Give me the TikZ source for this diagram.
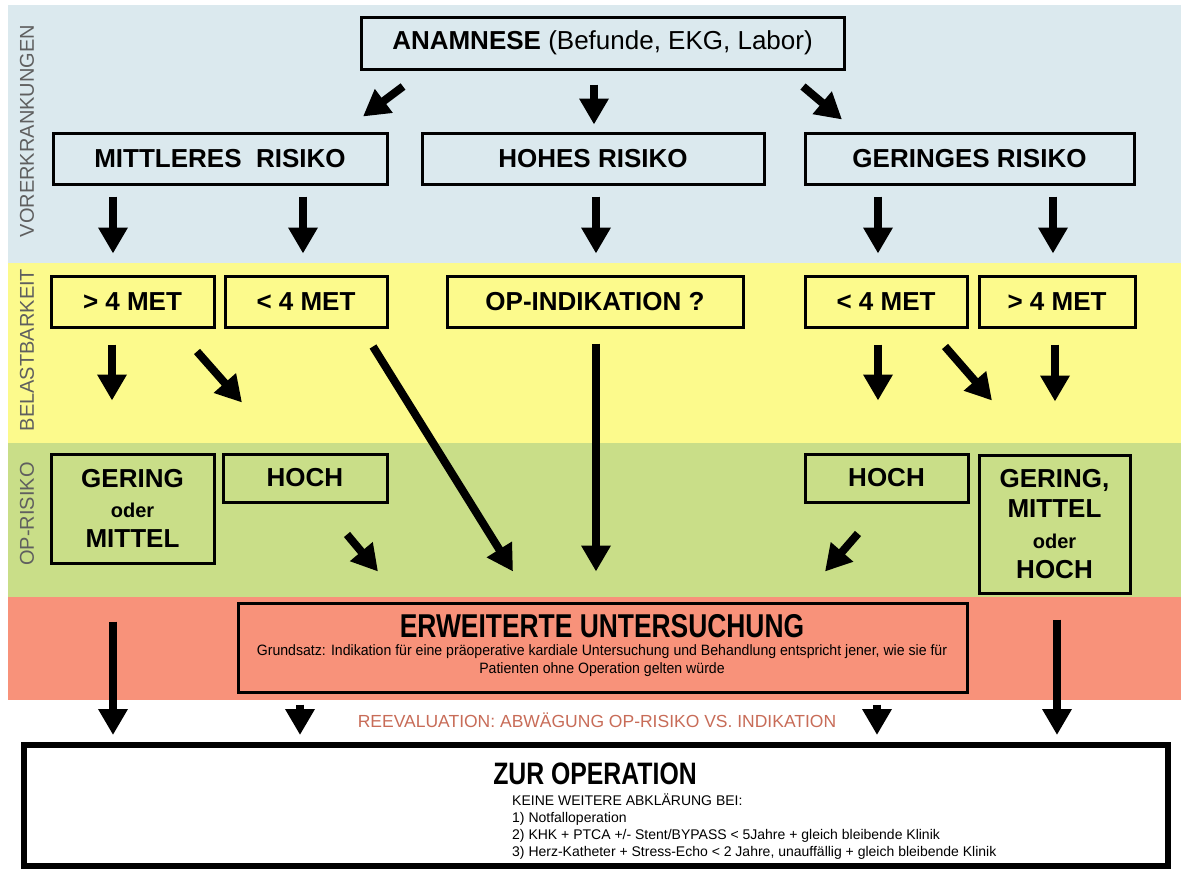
\documentclass[tikz,border=0pt]{standalone}
\usepackage{fontspec}
\setmainfont{Liberation Sans}
\newfontfamily\condfont[FakeStretch=0.80]{Liberation Sans}
\newfontfamily\smallcond[FakeStretch=0.94]{Liberation Sans}
\usetikzlibrary{arrows.meta}
\definecolor{bandblue}{RGB}{219,233,238}
\definecolor{bandyellow}{RGB}{252,250,140}
\definecolor{bandgreen}{RGB}{201,222,136}
\definecolor{bandred}{RGB}{248,146,122}
\definecolor{labelgray}{RGB}{95,95,95}
\definecolor{reeval}{RGB}{200,108,88}
\tikzset{
  box/.style={draw=black, line width=3pt, inner sep=0pt, align=center,
              font=\fontsize{26}{30}\selectfont\bfseries},
  barrow/.style={line width=8pt, -{Triangle[width=28pt,length=26pt]}},
  sidelabel/.style={rotate=90, text=labelgray, font=\fontsize{20}{20}\selectfont},
}
\begin{document}
\begin{tikzpicture}[x=1pt,y=-1pt]
\useasboundingbox (0,0) rectangle (1181,870);
\fill[white] (0,0) rectangle (1181,870);
% bands
\fill[bandblue]   (8,5)   rectangle (1181,263);
\fill[bandyellow] (8,263) rectangle (1181,443);
\fill[bandgreen]  (8,443) rectangle (1181,597);
\fill[bandred]    (8,597) rectangle (1181,700);
% side labels
\node[sidelabel] (lvor) at (27,131) {VORERKRANKUNGEN};
\node[sidelabel] (lbel) at (27,350) {BELASTBARKEIT};
\node[sidelabel] (lopr) at (27,514) {OP-RISIKO};
% boxes
\node[box, minimum width=483pt, minimum height=52pt] (anam) at (602.5,43)
  {ANAMNESE \mdseries(Befunde, EKG, Labor)};
\node[box, minimum width=334pt, minimum height=51pt] (mitt) at (220,158.5) {MITTLERES\ \ RISIKO};
\node[box, minimum width=342pt, minimum height=51pt] (hohes) at (593,158.5) {HOHES RISIKO};
\node[box, minimum width=329pt, minimum height=51pt] (ger) at (969.5,158.5) {GERINGES RISIKO};
\node[box, minimum width=163pt, minimum height=51pt] (gtL) at (132.5,301.5) {> 4 MET};
\node[box, minimum width=162pt, minimum height=51pt] (ltL) at (306,301.5) {< 4 MET};
\node[box, minimum width=296pt, minimum height=51pt] (opind) at (595,301.5) {OP-INDIKATION ?};
\node[box, minimum width=162pt, minimum height=51pt] (ltR) at (886,301.5) {< 4 MET};
\node[box, minimum width=156pt, minimum height=51pt] (gtR) at (1057,301.5) {> 4 MET};
\node[box, minimum width=163pt, minimum height=109pt] (gomL) at (132.5,508.5)
  {GERING\\{\fontsize{20}{29}\selectfont oder}\\MITTEL};
\node[box, minimum width=164pt, minimum height=48pt] (hochL) at (305,478) {HOCH};
\node[box, minimum width=163pt, minimum height=48pt] (hochR) at (886.5,478) {HOCH};
\node[box, minimum width=151pt, minimum height=138pt, font=\fontsize{26}{30.5}\selectfont\bfseries] (gmoh) at (1054.5,524)
  {GERING,\\MITTEL\\{\fontsize{20}{30.5}\selectfont oder}\\HOCH};
\node[box, fill=bandred, minimum width=729pt, minimum height=89pt] (erw) at (602.5,647.5) {};
\node[font=\condfont\fontsize{33}{33}\selectfont\bfseries, inner sep=0pt] (erwt) at (602,626) {ERWEITERTE UNTERSUCHUNG};
\node[font=\smallcond\fontsize{15}{18}\selectfont, align=center, inner sep=0pt] (erws) at (602,661)
  {Grundsatz: Indikation für eine präoperative kardiale Untersuchung und Behandlung entspricht jener, wie sie für\\Patienten ohne Operation gelten würde};
\node[draw=black, line width=6pt, minimum width=1144pt, minimum height=121pt, inner sep=0pt] (zur) at (596,805.5) {};
\node[font=\condfont\fontsize{31}{31}\selectfont\bfseries, inner sep=0pt] (zurt) at (595,774) {ZUR OPERATION};
\node[font=\fontsize{14}{17}\selectfont, align=left, anchor=north west, inner sep=0pt] (zurl) at (512,794)
  {KEINE WEITERE ABKLÄRUNG BEI:\\
   1) Notfalloperation\\
   2) KHK + PTCA +/- Stent/BYPASS < 5Jahre + gleich bleibende Klinik\\
   3) Herz-Katheter + Stress-Echo < 2 Jahre, unauffällig + gleich bleibende Klinik};
\node[font=\fontsize{17.5}{17.5}\selectfont, text=reeval, inner sep=0pt] (reev) at (597,720)
  {REEVALUATION: ABWÄGUNG OP-RISIKO VS. INDIKATION};
% arrows row 1
\draw[barrow] ([shift={(-199.5,16)}]anam.south) -- ([shift={(143,-15)}]mitt.north);
\draw[barrow] ([shift={(-8.5,14)}]anam.south) -- ([shift={(1,-7)}]hohes.north);
\draw[barrow] ([shift={(200.5,16)}]anam.south) -- ([shift={(-127.5,-12)}]ger.north);
% row 2
\draw[barrow] ([shift={(-107,11)}]mitt.south) -- ([shift={(-19.5,-21)}]gtL.north);
\draw[barrow] ([shift={(83,11)}]mitt.south) -- ([shift={(-3,-21)}]ltL.north);
\draw[barrow] ([shift={(3,11)}]hohes.south) -- ([shift={(1,-21)}]opind.north);
\draw[barrow] ([shift={(-91.5,11)}]ger.south) -- ([shift={(-8,-21)}]ltR.north);
\draw[barrow] ([shift={(83.5,11)}]ger.south) -- ([shift={(-4,-21)}]gtR.north);
% row 3
\draw[barrow] ([shift={(-20.5,16)}]gtL.south) -- ([shift={(-20.5,-52)}]gomL.north);
\draw[barrow] ([shift={(64.5,23)}]gtL.south) -- ([shift={(-63,-50)}]hochL.north);
\draw[barrow] ([shift={(67,18)}]ltL.south) -- ([shift={(-89.5,-30)}]erw.north);
\draw[barrow] ([shift={(1,15)}]opind.south) -- ([shift={(-6.5,-30)}]erw.north);
\draw[barrow] ([shift={(-8,16)}]ltR.south) -- ([shift={(-8.5,-52)}]hochR.north);
\draw[barrow] ([shift={(59,18)}]ltR.south) -- ([shift={(-62.5,-53)}]gmoh.north);
\draw[barrow] ([shift={(-2,16)}]gtR.south) -- ([shift={(0.5,-52)}]gmoh.north);
% green band
\draw[barrow] ([shift={(42,31)}]hochL.south) -- ([shift={(-224.5,-30)}]erw.north);
\draw[barrow] ([shift={(-28.5,30)}]hochR.south) -- ([shift={(222.5,-30)}]erw.north);
% to operation
\draw[barrow] ([shift={(-19.5,57)}]gomL.south) -- ([shift={(-483,-7)}]zur.north);
\draw[barrow] ([shift={(2.5,25)}]gmoh.south) -- ([shift={(461,-7)}]zur.north);
\draw[barrow] ([shift={(-302.5,11)}]erw.south) -- ([shift={(-296,-7)}]zur.north);
\draw[barrow] ([shift={(274.5,11)}]erw.south) -- ([shift={(281,-7)}]zur.north);
\end{tikzpicture}
\end{document}
